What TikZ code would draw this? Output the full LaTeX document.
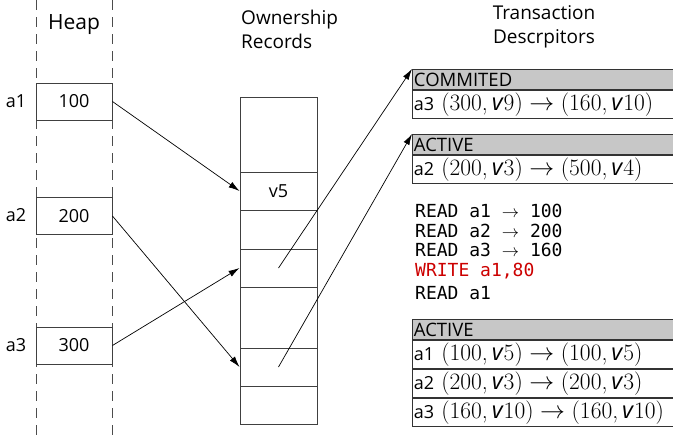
\documentclass[tikz,border=0pt]{standalone}
\usepackage{fontspec}
\setsansfont{Open Sans}
\setmonofont{DejaVu Sans Mono}
\usetikzlibrary{arrows.meta, positioning}
\newcommand{\sz}[1]{\fontsize{#1}{#1}\selectfont}
\newcommand{\addr}[1]{{\sz{18}#1}\hspace{0.3em}}
\newcommand{\pair}[2]{{\rmfamily(#1,\,}\textit{v}{\rmfamily #2)}}
\newcommand{\goes}{\hspace{0.28em}$\rightarrow$\hspace{0.28em}}
\tikzset{
  cell/.style={rectangle, draw=black!75, line width=0.9pt, minimum width=76pt,
               minimum height=37pt, inner sep=0pt, font=\sffamily\sz{18}},
  rec/.style={rectangle, draw=black!75, line width=0.9pt, minimum width=77pt,
              minimum height=38pt, inner sep=0pt, font=\sffamily\sz{18}},
  dhead/.style={rectangle, draw=black!80, fill=black!22, line width=0.9pt,
                minimum height=20pt, text width=258pt, inner xsep=1.5pt,
                inner ysep=0pt, align=left, font=\sffamily\sz{18.5}},
  drow/.style={rectangle, draw=black!80, line width=0.9pt, minimum height=28pt,
               text width=258pt, inner xsep=1.5pt, inner ysep=0pt, align=left,
               font=\sffamily\sz{23.5}},
  op/.style={anchor=base west, inner sep=0pt, font=\ttfamily\sz{18}},
  ptr/.style={-{Latex[length=11pt,width=6.5pt]}, line width=0.7pt},
  guide/.style={draw=black!70, line width=1pt, dash pattern=on 10pt off 7pt},
  title/.style={font=\sffamily\fontsize{19}{24}\selectfont, inner sep=0pt},
  addrlbl/.style={font=\sffamily\sz{18}, inner sep=0pt},
}
\begin{document}
\begin{tikzpicture}[x=1pt, y=-1pt]
  \useasboundingbox (0,0) rectangle (673,440);

  % heap column
  \draw[guide] (36,0) -- (36,440);
  \draw[guide] (112,0) -- (112,440);
  \node[title, font=\sffamily\sz{21}] (heapt) at (74,25) {Heap};

  \node[cell] (h1) at (74,101.5) {100};
  \node[cell] (h2) at (74,216)   {200};
  \node[cell] (h3) at (74,345.5) {300};
  \node[addrlbl] (a1) at (16,101)   {a1};
  \node[addrlbl] (a2) at (16,215.5) {a2};
  \node[addrlbl] (a3) at (16,345)   {a3};

  % ownership records
  \node[title, align=left, anchor=west] (ownt) at (241,29) {Ownership\\Records};
  \node[rec, minimum height=327pt] (orec) at (278.5,260.5) {};
  \node[rec] (r1) at (278.5,191) {v5};
  \node[rec] (r2) at (278.5,268) {};
  \node[rec] (r3) at (278.5,367) {};

  % transaction descriptors
  \node[title, align=center] (txt) at (544,27) {Transaction\\Descrpitors};

  \node[dhead, anchor=north west] (t1h) at (412,69) {COMMITED};
  \node[drow, below=0pt of t1h] (t1r)
    {\mbox{\addr{a3}\pair{300}{9}\goes\pair{160}{10}}};

  \node[dhead, anchor=north west] (t2h) at (412,134) {ACTIVE};
  \node[drow, below=0pt of t2h] (t2r)
    {\mbox{\addr{a2}\pair{200}{3}\goes\pair{500}{4}}};

  \node[op] (op1) at (415,217) {READ a1 $\rightarrow$ 100};
  \node[op] (op2) at (415,237) {READ a2 $\rightarrow$ 200};
  \node[op] (op3) at (415,256) {READ a3 $\rightarrow$ 160};
  \node[op, text=red!80!black] (op4) at (415,276) {WRITE a1,80};
  \node[op] (op5) at (415,299) {READ a1};

  \node[dhead, anchor=north west] (t3h) at (412,319) {ACTIVE};
  \node[drow, below=0pt of t3h] (t3r1)
    {\mbox{\addr{a1}\pair{100}{5}\goes\pair{100}{5}}};
  \node[drow, below=0pt of t3r1] (t3r2)
    {\mbox{\addr{a2}\pair{200}{3}\goes\pair{200}{3}}};
  \node[drow, below=0pt of t3r2] (t3r3)
    {\mbox{\addr{a3}\pair{160}{10}\goes\pair{160}{10}}};

  % pointers
  \draw[ptr] (h1.east) -- (r1.west);
  \draw[ptr] (h2.east) -- (r3.west);
  \draw[ptr] (h3.east) -- (r2.west);
  \draw[ptr] (r2.center) -- (t1h.north west);
  \draw[ptr] (r3.center) -- (t2h.north west);
\end{tikzpicture}
\end{document}
